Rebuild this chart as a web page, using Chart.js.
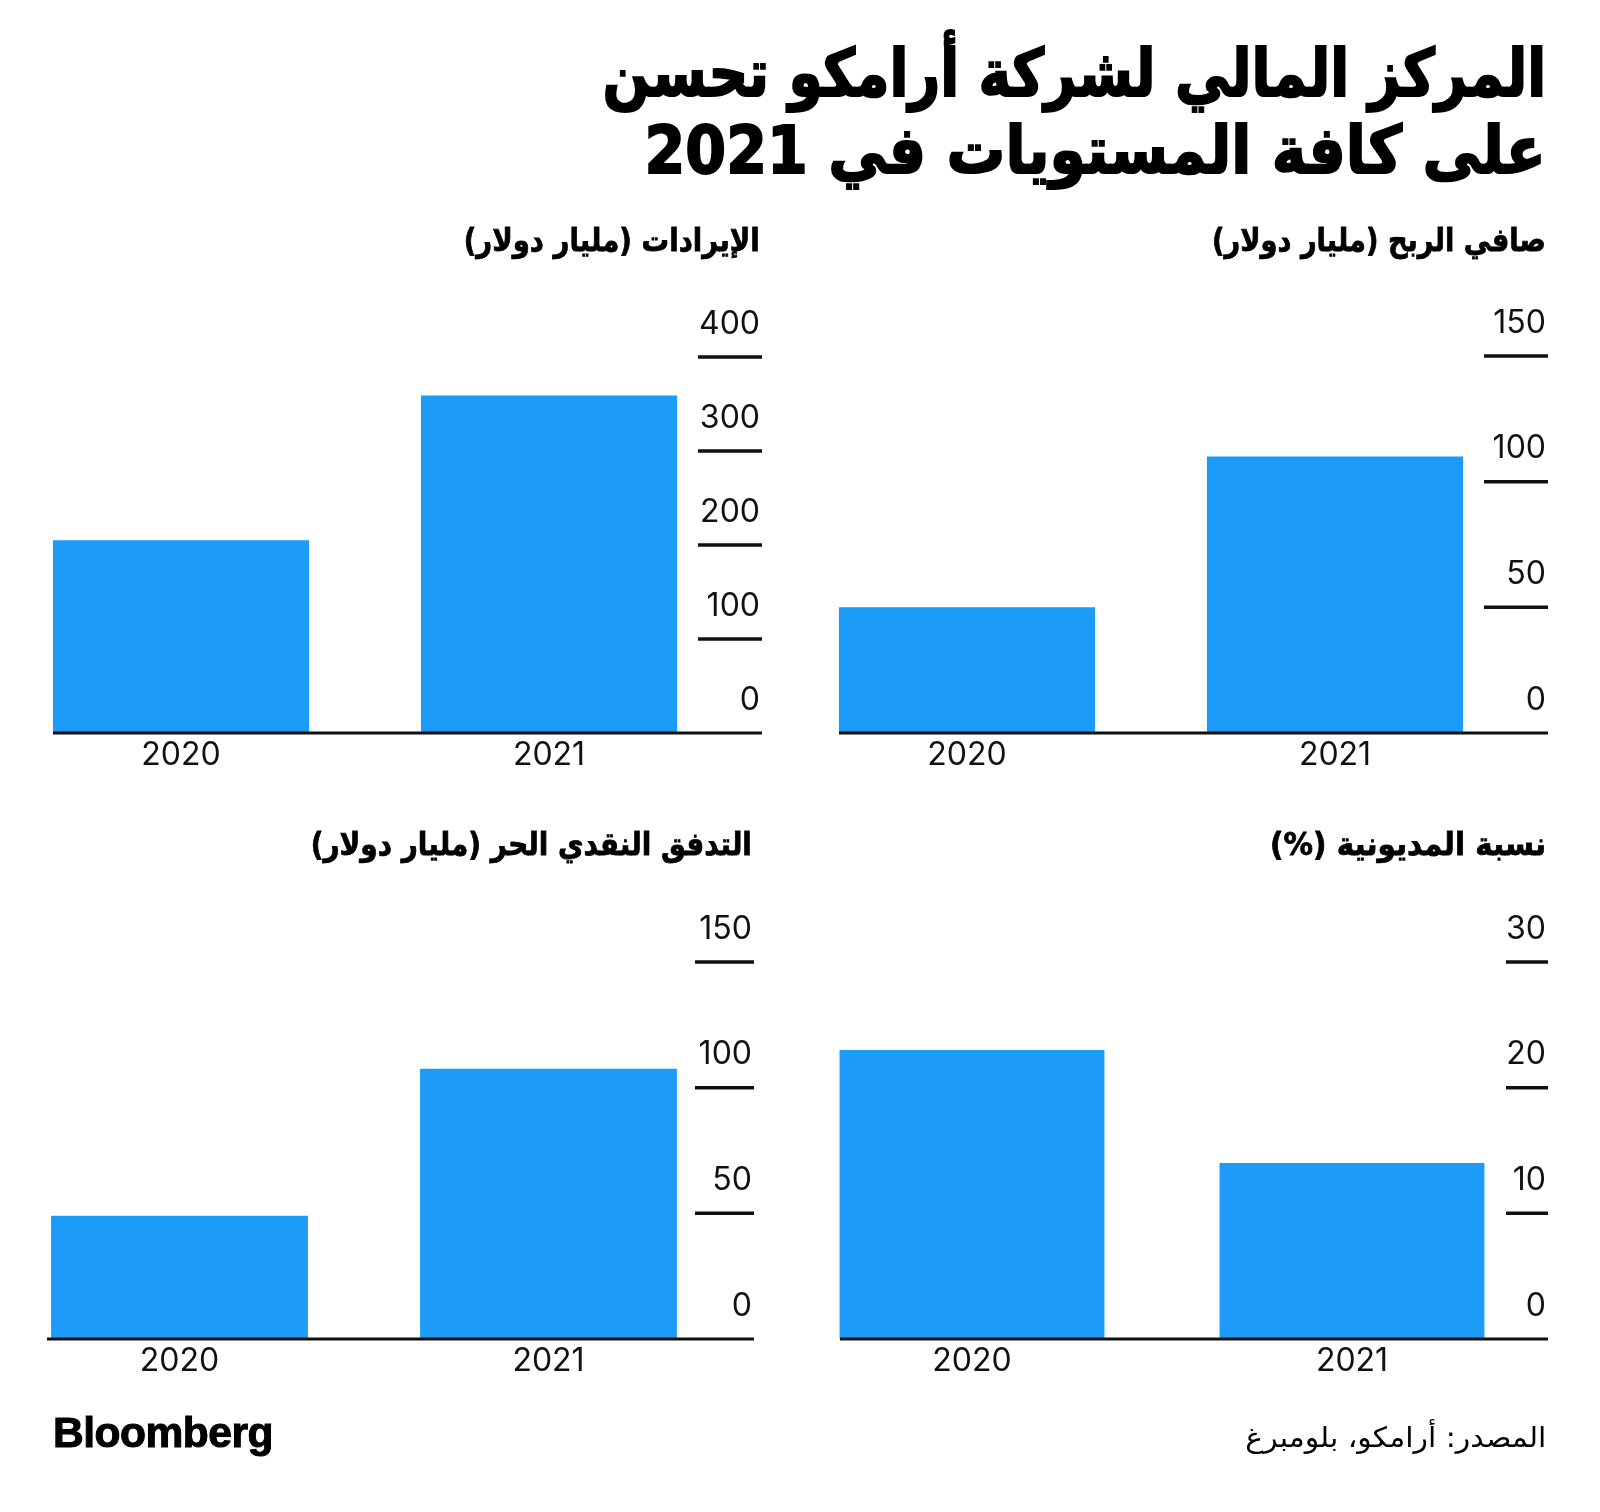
<!DOCTYPE html>
<html>
<head>
<meta charset="utf-8">
<script src="https://cdn.jsdelivr.net/npm/chart.js@4.4.1/dist/chart.umd.min.js"></script>
<style>
  html, body { margin: 0; padding: 0; background: #fff; }
  #page { position: relative; width: 1600px; height: 1512px; overflow: hidden; }
  canvas.layer { position: absolute; top: 0; }
  .t { position: absolute; white-space: nowrap; line-height: 1; color: #000; }
  .ar { direction: rtl; font-family: 'DejaVu Sans', sans-serif; transform-origin: right center; }
  .title { font-size: 66px; font-weight: bold; right: 54px; -webkit-text-stroke: 2px #000; }
  .sub { font-size: 32px; font-weight: bold; -webkit-text-stroke: 0.8px #000; }
  .src { font-size: 28px; right: 54px; top: 1424px; }
  .logo { left: 53px; top: 1412px; font-family: 'Liberation Sans', Arial, sans-serif; font-weight: bold; font-size: 42px; letter-spacing: -0.5px; transform-origin: left center; -webkit-text-stroke: 1px #000; }
</style>
</head>
<body>
<div id="page">
  <canvas id="revChart" class="layer"></canvas>
  <canvas id="netChart" class="layer"></canvas>
  <canvas id="fcfChart" class="layer"></canvas>
  <canvas id="gearChart" class="layer"></canvas>

  <div class="t ar title" style="top:41px" data-fit="944">المركز المالي لشركة أرامكو تحسن</div>
  <div class="t ar title" style="top:118px" data-fit="901">على كافة المستويات في 2021</div>

  <div class="t ar sub" style="right:840px; top:224px" data-fit="296">الإيرادات (مليار دولار)</div>
  <div class="t ar sub" style="right:54px; top:224px" data-fit="334">صافي الربح (مليار دولار)</div>
  <div class="t ar sub" style="right:848px; top:828px" data-fit="441">التدفق النقدي الحر (مليار دولار)</div>
  <div class="t ar sub" style="right:54px; top:828px" data-fit="276">نسبة المديونية (%)</div>

  <div class="t logo" data-fit="220">Bloomberg</div>
  <div class="t ar src" data-fit="301">المصدر: أرامكو، بلومبرغ</div>
</div>

<script>
const years = ['2020', '2021'];

const revenue = [205, 359];
const revenueTicks = [0, 100, 200, 300, 400];

const netIncome = [50, 110];
const netIncomeTicks = [0, 50, 100, 150];

const freeCashFlow = [49, 107.5];
const freeCashFlowTicks = [0, 50, 100, 150];

const gearing = [23, 14];
const gearingTicks = [0, 10, 20, 30];

const BAR_BLUE = '#1d9bf9';
const INK = '#111';
const NUM_FONT = "32px Inter, 'Liberation Sans', Arial, sans-serif";
const PAGE_W = 1600, PAGE_H = 1512;
const SHIFT = 10; // canvases start a little left of the page so a bar slot may begin off-page

// draws the short right-hand tick lines, their labels, the baseline and the year labels
const sideAxis = {
    id: 'sideAxis',
    afterDatasetsDraw(chart, args, opts) {
        const ctx = chart.ctx;
        const x = chart.scales.x;
        const y = chart.scales.y;
        const base = y.getPixelForValue(0);

        ctx.save();
        ctx.strokeStyle = INK;
        ctx.fillStyle = INK;
        ctx.font = NUM_FONT;

        opts.ticks.forEach(v => {
            const py = y.getPixelForValue(v);
            if (v !== 0) {
                ctx.lineWidth = 3.5;
                ctx.beginPath();
                ctx.moveTo(opts.tickX0, py);
                ctx.lineTo(opts.tickX1, py);
                ctx.stroke();
            }
            ctx.textAlign = 'right';
            ctx.textBaseline = 'middle';
            ctx.fillText(String(v), opts.tickX1 - 2, py - 33);
        });

        ctx.lineWidth = 3;
        ctx.beginPath();
        ctx.moveTo(opts.baseX0, base);
        ctx.lineTo(opts.tickX1, base);
        ctx.stroke();

        ctx.textAlign = 'center';
        ctx.textBaseline = 'middle';
        years.forEach((label, i) => {
            ctx.fillText(label, x.getPixelForValue(i), base + 22);
        });
        ctx.restore();
    }
};

function makePanel(id, values, ticks, area, barPct, axis) {
    const canvas = document.getElementById(id);
    canvas.width = PAGE_W + SHIFT;
    canvas.height = PAGE_H;
    canvas.style.left = (-SHIFT) + 'px';

    return new Chart(canvas, {
        type: 'bar',
        data: {
            labels: years,
            datasets: [{
                data: values,
                backgroundColor: BAR_BLUE,
                borderWidth: 0,
                barPercentage: barPct,
                categoryPercentage: 1
            }]
        },
        options: {
            responsive: false,
            animation: false,
            layout: {
                padding: {
                    left: area.left + SHIFT,
                    top: area.top,
                    right: PAGE_W - area.right,
                    bottom: PAGE_H - area.bottom
                }
            },
            scales: {
                x: { display: false },
                y: { display: false, min: 0, max: ticks[ticks.length - 1] }
            },
            plugins: {
                legend: { display: false },
                tooltip: { enabled: false },
                sideAxis: {
                    ticks: ticks,
                    tickX0: axis.tickX0 + SHIFT,
                    tickX1: axis.tickX1 + SHIFT,
                    baseX0: axis.baseX0 + SHIFT
                }
            }
        },
        plugins: [sideAxis]
    });
}

makePanel('revChart', revenue, revenueTicks,
    { left: -3, top: 357, right: 733, bottom: 733 }, 0.696,
    { tickX0: 698, tickX1: 762, baseX0: 53 });

makePanel('netChart', netIncome, netIncomeTicks,
    { left: 783, top: 356, right: 1519, bottom: 733 }, 0.696,
    { tickX0: 1484, tickX1: 1548, baseX0: 839 });

makePanel('fcfChart', freeCashFlow, freeCashFlowTicks,
    { left: -5, top: 962, right: 733, bottom: 1339 }, 0.696,
    { tickX0: 695, tickX1: 754, baseX0: 47 });

makePanel('gearChart', gearing, gearingTicks,
    { left: 782, top: 962, right: 1542, bottom: 1339 }, 0.697,
    { tickX0: 1506, tickX1: 1548, baseX0: 840 });

// squeeze the text to the widths of the original condensed type
document.querySelectorAll('[data-fit]').forEach(el => {
    const w = el.getBoundingClientRect().width;
    const target = Number(el.dataset.fit);
    if (w > 0) el.style.transform = 'scaleX(' + (target / w).toFixed(3) + ')';
});
</script>
</body>
</html>
